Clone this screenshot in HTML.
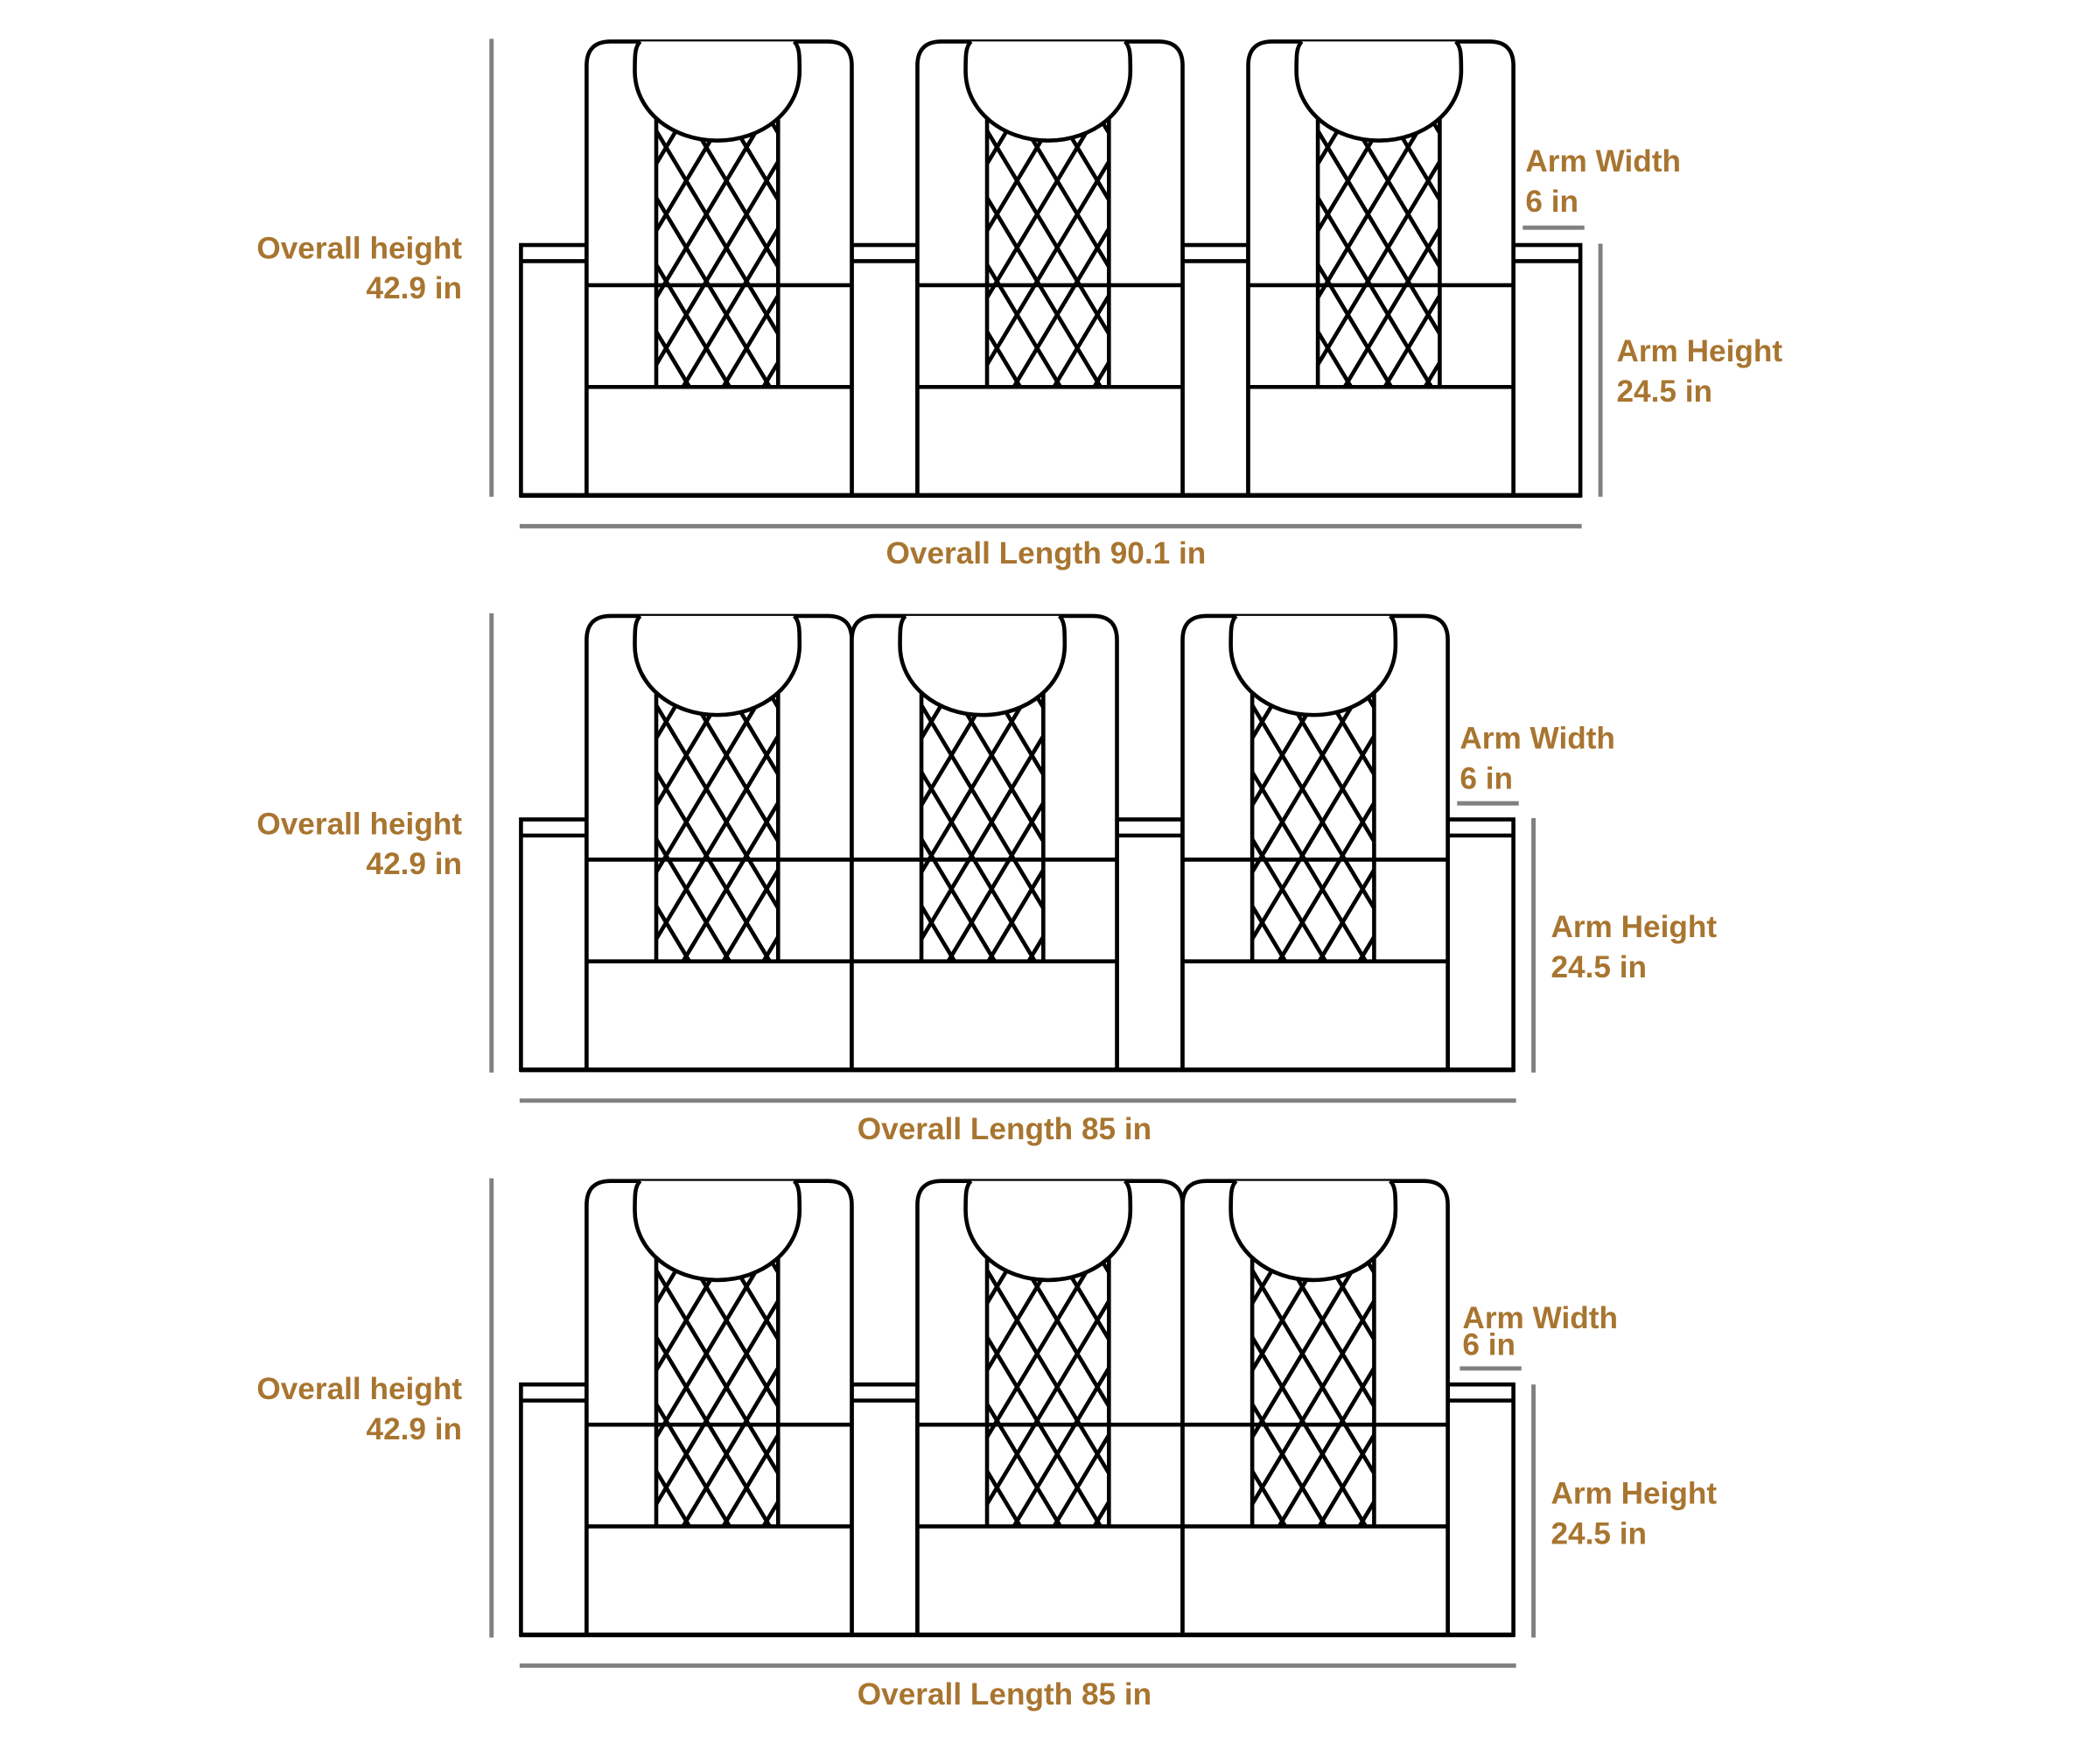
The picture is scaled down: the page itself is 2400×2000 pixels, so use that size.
<!DOCTYPE html>
<html><head><meta charset="utf-8"><style>
html,body{margin:0;padding:0;background:#fff;}
svg{display:block;}
text{font-family:"Liberation Sans",sans-serif;font-weight:bold;fill:#a87530;font-size:23px;}
</style></head><body>
<svg id="s" width="2400" height="2000" viewBox="0 0 1568 1307" preserveAspectRatio="none" xmlns="http://www.w3.org/2000/svg">
<defs></defs>
<g id="draw"></g>
<g stroke="#808080" stroke-width="3.2" fill="none">
<line x1="367" y1="29" x2="367" y2="371"/>
<line x1="388" y1="393" x2="1181" y2="393"/>
<line x1="1137" y1="170" x2="1183" y2="170"/>
<line x1="1195" y1="182" x2="1195" y2="371"/>
<line x1="367" y1="458" x2="367" y2="801"/>
<line x1="388" y1="822" x2="1132" y2="822"/>
<line x1="1088" y1="600" x2="1134" y2="600"/>
<line x1="1145" y1="611" x2="1145" y2="801"/>
<line x1="367" y1="880" x2="367" y2="1223"/>
<line x1="388" y1="1244" x2="1132" y2="1244"/>
<line x1="1090" y1="1022" x2="1136" y2="1022"/>
<line x1="1145" y1="1034" x2="1145" y2="1223"/>
</g>
<text x="345" y="193" text-anchor="end">Overall height</text>
<text x="345" y="223" text-anchor="end">42.9 in</text>
<text x="781" y="421" text-anchor="middle">Overall Length 90.1 in</text>
<text x="1139" y="128">Arm Width</text>
<text x="1139" y="158">6 in</text>
<text x="1207" y="270">Arm Height</text>
<text x="1207" y="300">24.5 in</text>
<text x="345" y="623" text-anchor="end">Overall height</text>
<text x="345" y="653" text-anchor="end">42.9 in</text>
<text x="750" y="851" text-anchor="middle">Overall Length 85 in</text>
<text x="1090" y="559">Arm Width</text>
<text x="1090" y="589">6 in</text>
<text x="1158" y="700">Arm Height</text>
<text x="1158" y="730">24.5 in</text>
<text x="345" y="1045" text-anchor="end">Overall height</text>
<text x="345" y="1075" text-anchor="end">42.9 in</text>
<text x="750" y="1273" text-anchor="middle">Overall Length 85 in</text>
<text x="1092" y="992">Arm Width</text>
<text x="1092" y="1012">6 in</text>
<text x="1158" y="1123">Arm Height</text>
<text x="1158" y="1153">24.5 in</text>
</svg>
<script>
var NS="http://www.w3.org/2000/svg",g=document.getElementById("draw"),defs=document.querySelector("defs"),cid=0;
function el(t,a,p){var e=document.createElementNS(NS,t);for(var k in a)e.setAttribute(k,a[k]);(p||g).appendChild(e);return e;}
var S={stroke:"#000","stroke-width":3,fill:"none"};
function st(o){var r={};for(var k in S)r[k]=S[k];for(var k in o)r[k]=o[k];return r;}
function arm(x,w,y0){
  el("rect",st({x:x,y:y0+152,width:w,height:187,fill:"#fff"}));
  el("line",st({x1:x,y1:y0+164,x2:x+w,y2:y0+164}));
}
function seat(x,y0){
  var w=198,b=y0+339,r=18;
  el("path",st({d:"M"+x+","+b+" L"+x+","+(y0+r)+" Q"+x+","+y0+" "+(x+r)+","+y0+" L"+(x+w-r)+","+y0+" Q"+(x+w)+","+y0+" "+(x+w)+","+(y0+r)+" L"+(x+w)+","+b+" Z",fill:"#fff"}));
  el("line",st({x1:x,y1:y0+182,x2:x+w,y2:y0+182}));
  el("line",st({x1:x,y1:y0+258,x2:x+w,y2:y0+258}));
  var lx=x+52,rx=x+143,ty=y0+50,by=y0+258;
  var id="c"+(cid++);var cp=el("clipPath",{id:id},defs);el("rect",{x:lx,y:ty,width:rx-lx,height:by-ty},cp);
  var lg=el("g",{"clip-path":"url(#"+id+")"});
  var s=0.6,p=30;
  for(var k=-10;k<15;k++){
    var x0=lx-10+k*p;
    el("line",st({x1:x0,y1:ty,x2:x0+s*(by-ty),y2:by}),lg);
    el("line",st({x1:x0,y1:by,x2:x0+s*(by-ty),y2:ty}),lg);
  }
  el("line",st({x1:lx,y1:ty,x2:lx,y2:by}));
  el("line",st({x1:rx,y1:ty,x2:rx,y2:by}));
  var hl=x+36,hr=x+159,hc=(hl+hr)/2,hb=y0+74;
  el("path",st({d:"M"+(hl+4)+","+y0+" C"+hl+","+(y0+4)+" "+hl+","+(y0+10)+" "+hl+","+(y0+22)+" C"+hl+","+(y0+52)+" "+(hl+28)+","+hb+" "+hc+","+hb+" C"+(hr-28)+","+hb+" "+hr+","+(y0+52)+" "+hr+","+(y0+22)+" C"+hr+","+(y0+10)+" "+hr+","+(y0+4)+" "+(hr-4)+","+y0,fill:"#fff"}));
}
function base(x1,x2,y0){el("line",st({x1:x1-1,y1:y0+339,x2:x2+1,y2:y0+339,"stroke-width":3.5}));}
var y=31;arm(389,49,y);arm(636,49,y);arm(883,49,y);arm(1130,50,y);
seat(438,y);seat(685,y);seat(932,y);base(389,1180,y);
y=460;arm(389,49,y);arm(834,49,y);arm(1081,49,y);
seat(438,y);seat(636,y);seat(883,y);base(389,1130,y);
y=882;arm(389,49,y);arm(636,49,y);arm(1081,49,y);
seat(438,y);seat(685,y);seat(883,y);base(389,1130,y);
</script>
</body></html>
